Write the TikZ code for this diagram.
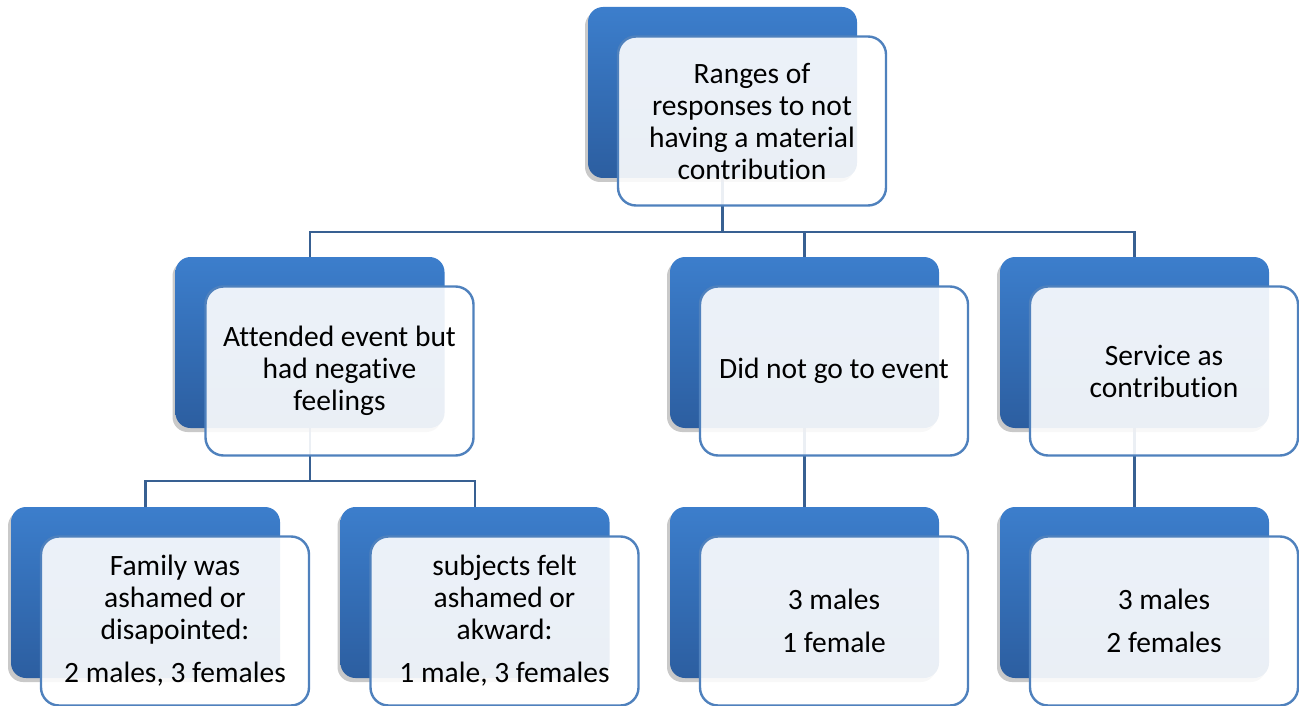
\documentclass[tikz,border=0pt]{standalone}
\usepackage{fontspec}
\setmainfont{Carlito}[Ligatures=CommonOff]
\usetikzlibrary{positioning,calc,backgrounds,shadows}

\definecolor{backtop}{RGB}{60,126,204}
\definecolor{backbot}{RGB}{44,94,160}
\definecolor{cardline}{RGB}{79,129,189}
\definecolor{linkblue}{RGB}{56,96,146}

\begin{document}
\begin{tikzpicture}[
  x=1pt, y=-1pt,
  back/.style={rounded corners=15pt, minimum width=269pt, minimum height=171pt, top color=backtop, bottom color=backbot, draw=none,
    drop shadow={shadow xshift=-3pt, shadow yshift=-4pt, opacity=0.3, fill=black!70}},
  card/.style={draw=cardline, line width=2.4pt, fill=white, fill opacity=0.9, text opacity=1, rounded corners=18pt,
    minimum width=268pt, minimum height=169pt, align=center, font=\fontsize{29.5}{32}\selectfont},
  link/.style={draw=linkblue, line width=2.4pt}
]
\useasboundingbox (0,0) rectangle (1299,706);

% top level
\node[back] (top) at (722.5,92.5) {};
\node[card] (top-c) at ($(top)+(29.5,28.5)$) {Ranges of\\responses to not\\having a material\\contribution};

% second row
\node[back] (attended) at (310,342.5) {};
\node[card] (attended-c) at ($(attended)+(29.5,28.5)$) {Attended event but\\had negative\\feelings};
\node[back] (absent) at (804.5,342.5) {};
\node[card] (absent-c) at ($(absent)+(29.5,28.5)$) {Did not go to event};
\node[back] (service) at (1134.5,342.5) {};
\node[card] (service-c) at ($(service)+(29.5,28.5)$) {Service as\\contribution};

% third row
\node[back] (family) at (145.5,592.5) {};
\node[card] (family-c) at ($(family)+(29.5,28.5)$) {Family was\\ashamed or\\disapointed:\\[11pt]2 males, 3 females};
\node[back] (subjects) at (475,592.5) {};
\node[card] (subjects-c) at ($(subjects)+(29.5,28.5)$) {subjects felt\\ashamed or\\akward:\\[11pt]1 male, 3 females};
\node[back] (absentn) at (804.5,592.5) {};
\node[card] (absentn-c) at ($(absentn)+(29.5,28.5)$) {3 males\\[11pt]1 female};
\node[back] (servicen) at (1134.5,592.5) {};
\node[card] (servicen-c) at ($(servicen)+(29.5,28.5)$) {3 males\\[11pt]2 females};

\coordinate (bus) at (0,232);
\coordinate (bus2) at (0,481);

\begin{scope}[on background layer]
\draw[link] (top.center) -- (top.center |- bus) -| (attended.center);
\draw[link] (top.center |- bus) -| (absent.center);
\draw[link] (top.center |- bus) -| (service.center);
\draw[link] (attended.center) -- (attended.center |- bus2) -| (family.center);
\draw[link] (attended.center |- bus2) -| (subjects.center);
\draw[link] (absent.center) -- (absentn.center);
\draw[link] (service.center) -- (servicen.center);
\end{scope}
\end{tikzpicture}
\end{document}
